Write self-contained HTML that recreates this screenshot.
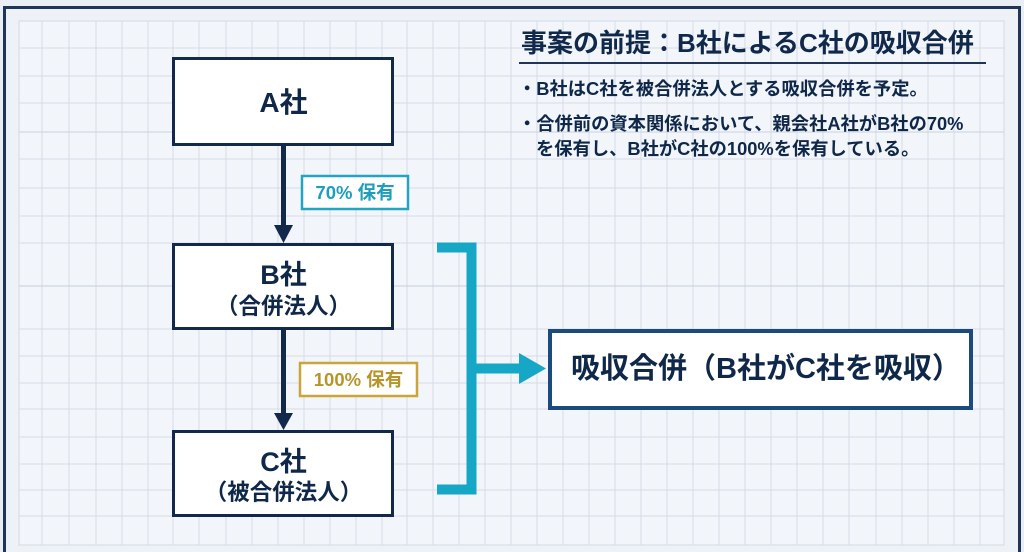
<!DOCTYPE html>
<html><head><meta charset="utf-8">
<style>
html,body{margin:0;padding:0;}
body{width:1024px;height:552px;overflow:hidden;background:#e9eef4;position:relative;font-family:"Liberation Sans","Noto Sans CJK JP",sans-serif;font-weight:bold;color:#0f2849;}
svg{position:absolute;left:0;top:0;}
.t{position:absolute;white-space:nowrap;}
.c{text-align:center;}
</style></head><body>
<svg width="1024" height="552" viewBox="0 0 1024 552">
  <rect x="4.5" y="7.5" width="1015" height="560" fill="#eef2f7" stroke="#1f3456" stroke-width="3"/>
  <rect x="19" y="21" width="985" height="524" fill="#f2f5f9" stroke="#d3dae6" stroke-width="1"/>
  <g stroke="#d5dce8" stroke-width="1">
    <line x1="42" y1="21" x2="42" y2="545"/><line x1="69" y1="21" x2="69" y2="545"/><line x1="96" y1="21" x2="96" y2="545"/><line x1="122" y1="21" x2="122" y2="545"/><line x1="148" y1="21" x2="148" y2="545"/><line x1="173" y1="21" x2="173" y2="545"/><line x1="199" y1="21" x2="199" y2="545"/><line x1="226" y1="21" x2="226" y2="545"/><line x1="252" y1="21" x2="252" y2="545"/><line x1="278" y1="21" x2="278" y2="545"/><line x1="304" y1="21" x2="304" y2="545"/><line x1="330" y1="21" x2="330" y2="545"/><line x1="356" y1="21" x2="356" y2="545"/><line x1="382" y1="21" x2="382" y2="545"/><line x1="407" y1="21" x2="407" y2="545"/><line x1="433" y1="21" x2="433" y2="545"/><line x1="459" y1="21" x2="459" y2="545"/><line x1="485" y1="21" x2="485" y2="545"/><line x1="511" y1="21" x2="511" y2="545"/><line x1="537" y1="21" x2="537" y2="545"/><line x1="563" y1="21" x2="563" y2="545"/><line x1="589" y1="21" x2="589" y2="545"/><line x1="615" y1="21" x2="615" y2="545"/><line x1="641" y1="21" x2="641" y2="545"/><line x1="667" y1="21" x2="667" y2="545"/><line x1="693" y1="21" x2="693" y2="545"/><line x1="719" y1="21" x2="719" y2="545"/><line x1="745" y1="21" x2="745" y2="545"/><line x1="771" y1="21" x2="771" y2="545"/><line x1="797" y1="21" x2="797" y2="545"/><line x1="823" y1="21" x2="823" y2="545"/><line x1="849" y1="21" x2="849" y2="545"/><line x1="876" y1="21" x2="876" y2="545"/><line x1="902" y1="21" x2="902" y2="545"/><line x1="928" y1="21" x2="928" y2="545"/><line x1="954" y1="21" x2="954" y2="545"/><line x1="980" y1="21" x2="980" y2="545"/>
    <line x1="19" y1="48" x2="1004" y2="48"/><line x1="19" y1="76" x2="1004" y2="76"/><line x1="19" y1="103" x2="1004" y2="103"/><line x1="19" y1="132" x2="1004" y2="132" stroke="#cbd3e0"/><line x1="19" y1="159" x2="1004" y2="159"/><line x1="19" y1="188" x2="1004" y2="188"/><line x1="19" y1="216" x2="1004" y2="216"/><line x1="19" y1="243" x2="1004" y2="243"/><line x1="19" y1="286" x2="1004" y2="286" stroke="#c6cfdd"/><line x1="19" y1="329" x2="1004" y2="329"/><line x1="19" y1="356" x2="1004" y2="356"/><line x1="19" y1="383" x2="1004" y2="383"/><line x1="19" y1="409" x2="1004" y2="409"/><line x1="19" y1="437" x2="1004" y2="437"/><line x1="19" y1="464" x2="1004" y2="464"/><line x1="19" y1="490" x2="1004" y2="490"/><line x1="19" y1="516" x2="1004" y2="516"/>
  </g>
  <!-- title underline -->
  <line x1="519" y1="63" x2="986" y2="63" stroke="#1f3456" stroke-width="2"/>
  <!-- boxes -->
  <rect x="173.5" y="58.5" width="219" height="86" fill="#ffffff" stroke="#13294b" stroke-width="3"/>
  <rect x="173.5" y="244.5" width="219" height="84" fill="#ffffff" stroke="#13294b" stroke-width="3"/>
  <rect x="173.5" y="431.5" width="219" height="84" fill="#ffffff" stroke="#13294b" stroke-width="3"/>
  <!-- arrows -->
  <line x1="283.5" y1="146" x2="283.5" y2="228" stroke="#13294b" stroke-width="5"/>
  <polygon points="274,225 293,225 283.5,243" fill="#13294b"/>
  <line x1="283.5" y1="330" x2="283.5" y2="416" stroke="#13294b" stroke-width="5"/>
  <polygon points="274,413 293,413 283.5,430" fill="#13294b"/>
  <!-- labels -->
  <rect x="302" y="176" width="106" height="33" fill="#ffffff" stroke="#22a5c2" stroke-width="2.5"/>
  <rect x="300" y="363" width="117" height="33" fill="#ffffff" stroke="#c9a53b" stroke-width="2.5"/>
  <!-- bracket -->
  <polyline points="437,247.5 471.5,247.5 471.5,489.5 437,489.5" fill="none" stroke="#17a7c6" stroke-width="10"/>
  <line x1="471" y1="368.5" x2="521" y2="368.5" stroke="#17a7c6" stroke-width="10"/>
  <polygon points="519,353 519,384 546,368.5" fill="#17a7c6"/>
  <!-- merger box -->
  <rect x="550" y="331" width="421" height="77" fill="#ffffff" stroke="#1b4a7c" stroke-width="4"/>
</svg>

<div class="t" style="left:521px;top:27px;font-size:26px;line-height:32px;color:#10284a;">事案の前提：B社によるC社の吸収合併</div>
<div class="t" style="left:518px;top:76px;font-size:18.3px;line-height:25px;">・B社はC社を被合併法人とする吸収合併を予定。</div>
<div class="t" style="left:518px;top:111px;font-size:18.3px;line-height:25px;">・合併前の資本関係において、親会社A社がB社の70%</div>
<div class="t" style="left:536px;top:136px;font-size:18.3px;line-height:25px;">を保有し、B社がC社の100%を保有している。</div>

<div class="t c" style="left:173px;width:221px;top:86px;font-size:28px;line-height:34px;">A社</div>
<div class="t c" style="left:173px;width:221px;top:259px;font-size:27px;line-height:32px;">B社</div>
<div class="t c" style="left:173px;width:221px;top:293px;font-size:22.5px;line-height:28px;">（合併法人）</div>
<div class="t c" style="left:173px;width:221px;top:446px;font-size:27px;line-height:32px;">C社</div>
<div class="t c" style="left:173px;width:221px;top:479px;font-size:22.5px;line-height:28px;">（被合併法人）</div>

<div class="t c" style="left:301px;width:108px;top:179px;font-size:18.5px;line-height:28px;color:#1d9ebd;">70% 保有</div>
<div class="t c" style="left:299px;width:119px;top:366px;font-size:18.5px;line-height:28px;color:#b8952a;">100% 保有</div>

<div class="t" style="left:571px;top:352px;font-size:29px;line-height:34px;">吸収合併（B社がC社を吸収）</div>
</body></html>
